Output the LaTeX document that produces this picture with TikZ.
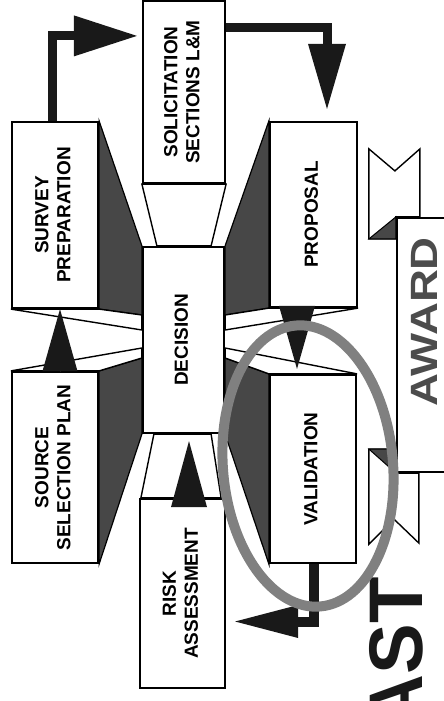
\documentclass[tikz,border=0pt]{standalone}
\usepackage{fontspec}
\setmainfont{Liberation Sans}
\usetikzlibrary{arrows.meta,calc,backgrounds}
\definecolor{dotgray}{gray}{0.28}
\definecolor{inkdark}{gray}{0.1}
\definecolor{ringgray}{gray}{0.5}
\definecolor{awardgray}{gray}{0.3}
\newcommand{\sidetext}[1]{\rotatebox{90}{\begin{tabular}{@{}c@{}}#1\end{tabular}}}

\begin{document}
\begin{tikzpicture}[x=1pt,y=-1pt,
    box/.style={draw,line width=2.2pt,fill=white,inner sep=0pt,
      font=\fontsize{19}{22}\selectfont\bfseries},
    darkpart/.style={fill=dotgray,draw=black,line width=1.2pt},
    beamline/.style={draw,fill=white,line width=1.4pt,line join=miter},
    flowline/.style={draw=inkdark,line width=9pt,line join=miter},
    headonly/.style={draw=inkdark,line width=0.4pt},
    loopring/.style={draw=ringgray,line width=10pt}]
  \useasboundingbox (0,0) rectangle (444,701);

  % boxes round the decision
  \node[box,minimum width=86pt,minimum height=186pt] (survey) at (55,215) {\sidetext{SURVEY\\PREPARATION}};
  \node[box,minimum width=86pt,minimum height=191pt] (source) at (55,467.5) {\sidetext{SOURCE\\SELECTION PLAN}};
  \node[box,minimum width=82pt,minimum height=182pt] (solic) at (184,92) {\sidetext{SOLICITATION\\SECTIONS L\&M}};
  \node[box,minimum width=81pt,minimum height=186pt] (decision) at (183.5,340) {\sidetext{DECISION}};
  \node[box,minimum width=85pt,minimum height=189pt] (risk) at (182.5,593.5) {\sidetext{RISK\\ASSESSMENT}};
  \node[box,minimum width=87pt,minimum height=185pt] (proposal) at (313.5,214.5) {\sidetext{PROPOSAL}};
  \node[box,minimum width=86pt,minimum height=188pt] (validation) at (313,469) {\sidetext{VALIDATION}};
  % award banner
  \node[box,minimum width=54pt,minimum height=254pt] (award) at (424,345) {};
  \node[font=\fontsize{38}{38}\selectfont\bfseries,text=awardgray] (awardtxt) at ($(award.center)+(0,-23)$) {\rotatebox{90}{\scalebox{1.2}[1]{AWARD}}};
  \node[font=\fontsize{76}{76}\selectfont\bfseries,text=inkdark,anchor=north east,inner sep=0pt] (fast) at (423,577) {\rotatebox{90}{AST}};

  % where the beams meet the decision box
  \coordinate (dl1) at ($(decision.west)+(0,-25)$);
  \coordinate (dl2) at ($(decision.west)+(0,-10)$);
  \coordinate (dl3) at ($(decision.west)+(0,8)$);
  \coordinate (dl4) at ($(decision.west)+(0,18)$);
  \coordinate (dr1) at ($(decision.east)+(0,-25)$);
  \coordinate (dr2) at ($(decision.east)+(0,-10)$);
  \coordinate (dr3) at ($(decision.east)+(0,8)$);
  \coordinate (dr4) at ($(decision.east)+(0,18)$);

  \begin{scope}[on background layer]
    \filldraw[darkpart] (survey.north east) -- (decision.north west) -- (dl1) -- (survey.south east) -- cycle;
    \filldraw[darkpart] (source.north east) -- (dl4) -- (decision.south west) -- (source.south east) -- cycle;
    \filldraw[darkpart] (proposal.north west) -- (decision.north east) -- (dr1) -- (proposal.south west) -- cycle;
    \filldraw[darkpart] (validation.north west) -- (dr4) -- (decision.south east) -- (validation.south west) -- cycle;
    % beams
    \draw[beamline] (survey.south west) -- (survey.south east) -- (dl1) -- (dl2) -- cycle;
    \draw[beamline] (source.north west) -- (source.north east) -- (dl4) -- (dl3) -- cycle;
    \draw[beamline] (proposal.south east) -- (proposal.south west) -- (dr1) -- (dr2) -- cycle;
    \draw[beamline] (validation.north east) -- (validation.north west) -- (dr4) -- (dr3) -- cycle;
    \draw[beamline] (solic.south west) -- (solic.south east) -- ($(decision.north east)+(-14,0)$) -- ($(decision.north west)+(15,0)$) -- cycle;
    \draw[beamline] ($(decision.south west)+(12,0)$) -- ($(decision.south east)+(-14,0)$) -- ($(risk.north east)+(-5,0)$) -- ($(risk.north west)+(2,0)$) -- cycle;
    % ribbon ends
    \draw[beamline] ($(award.north west)+(-27,-68)$) -- ($(award.north west)+(-1,-46)$) -- ($(award.north west)+(24,-68)$)
      -- ($(award.north west)+(24,0)$) -- (award.north west) -- ($(award.north west)+(0,22)$) -- ($(award.north west)+(-27,22)$) -- cycle;
    \filldraw[darkpart,line width=1pt] ($(award.north west)+(-27,22)$) -- (award.north west) -- ($(award.north west)+(0,22)$) -- cycle;
    \draw[beamline] ($(award.south west)+(-27,-24)$) -- ($(award.south west)+(0,-24)$) -- (award.south west) -- ($(award.south west)+(23,0)$)
      -- ($(award.south west)+(23,70)$) -- ($(award.south west)+(-2,46)$) -- ($(award.south west)+(-27,71)$) -- cycle;
    \filldraw[darkpart,line width=1pt] ($(award.south west)+(-27,-24)$) -- ($(award.south west)+(0,-24)$) -- (award.south west) -- cycle;
  \end{scope}

  % flow arrows
  \draw[flowline,-{Triangle[length=63pt,width=41pt,line width=0pt]},shorten >=5pt] ($(survey.north)+(-3,0)$) |- ($(solic.north west)+(0,36)$);
  \draw[flowline,-{Triangle[length=65pt,width=38pt,line width=0pt]},shorten >=12pt] ($(solic.north east)+(0,28)$) -| ($(proposal.north)+(13.5,0)$);
  \draw[headonly,-{Triangle[length=62pt,width=35pt,line width=0pt]}] ($(source.north)+(5,0)$) -- ($(survey.south)+(5,0)$);
  \draw[headonly,-{Triangle[length=66pt,width=36pt,line width=0pt]},shorten >=7pt] ($(risk.north)+(6.5,8)$) -- ($(decision.south)+(5.5,0)$);
  \draw[headonly,-{Triangle[length=63pt,width=36pt,line width=0pt]},shorten >=5pt] ($(proposal.south)+(-16.5,0)$) -- ($(validation.north)+(-16,0)$);
  \draw[flowline,line width=10pt,-{Triangle[length=63pt,width=33pt,line width=0pt]},shorten >=9pt] ($(validation.south)+(1,0)$) |- ($(risk.east)+(0,28)$);

  % loop round the validation
  \coordinate (loopc) at (308,466);
  \draw[loopring,rotate around={5:(loopc)}] (loopc) ellipse [x radius=85, y radius=141];
\end{tikzpicture}
\end{document}
